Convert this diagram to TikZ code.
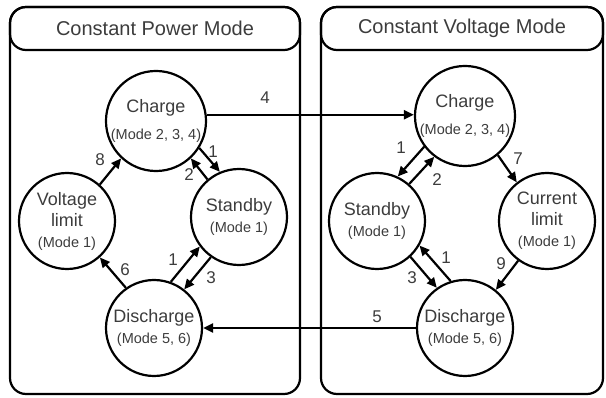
\documentclass[tikz,border=0pt]{standalone}
\usepackage{fontspec}
\setmainfont{Liberation Sans}
\usetikzlibrary{arrows.meta}
\definecolor{txt}{HTML}{3C3C3C}
\newcommand\modetxt[1]{{\fontsize{14.5}{17}\selectfont(Mode #1)}}

\begin{document}
\begin{tikzpicture}[x=1pt,y=-1pt,
  state/.style={circle, draw, line width=2.2pt, minimum size=96pt, inner sep=0pt,
    align=center, text=txt, font=\fontsize{18}{21}\selectfont},
  panel/.style={draw, line width=2.2pt, rounded corners=16pt},
  titlebox/.style={draw, line width=2.2pt, rounded corners=16pt, minimum height=43pt,
    inner sep=0pt, text=txt, font=\fontsize{20}{24}\selectfont},
  arr/.style={line width=2.2pt, -{Triangle[length=10pt,width=9pt]}},
  num/.style={text=txt, font=\fontsize{17}{20}\selectfont, inner sep=0pt},
]
\useasboundingbox (0,0) rectangle (606,398);

% panels and their titles
\draw[panel] (10,7) rectangle (300,394);
\draw[panel] (321,7) rectangle (603,394);
\node[titlebox, minimum width=290pt] (cpt) at (155,28.5) {Constant Power Mode};
\node[titlebox, minimum width=282pt] (cvt) at (462,28.5) {Constant Voltage Mode};

% constant power states
\node[state] (lch) at (156,121) {Charge\\[6pt]\modetxt{2, 3, 4}};
\node[state] (lvl) at (67,221) {Voltage\\limit\\\modetxt{1}};
\node[state] (lsb) at (239,217) {Standby\\\modetxt{1}};
\node[state] (ldc) at (154,328) {Discharge\\\modetxt{5, 6}};

% constant voltage states
\node[state] (rch) at (465,116) {Charge\\[6pt]\modetxt{2, 3, 4}};
\node[state] (rsb) at (377,221) {Standby\\\modetxt{1}};
\node[state] (rcl) at (547,221) {Current\\limit\\\modetxt{1}};
\node[state] (rdc) at (465,328) {Discharge\\\modetxt{5, 6}};

% transitions, constant power
\draw[arr] (lvl.48) -- (lch.227);
\draw[arr] (lch.-32) -- (lsb.113);
\draw[arr] (lsb.130) -- (lch.-47);
\draw[arr] (ldc.125) -- (lvl.-48);
\draw[arr] (ldc.70) -- (lsb.217);
\draw[arr] (lsb.235) -- (ldc.52);

% transitions, constant voltage
\draw[arr] (rch.217) -- (rsb.65);
\draw[arr] (rsb.49) -- (rch.233);
\draw[arr] (rch.-50) -- (rcl.128);
\draw[arr] (rsb.-47) -- (rdc.125);
\draw[arr] (rdc.107) -- (rsb.-30);
\draw[arr] (rcl.234) -- (rdc.51);

% transitions between the modes
\draw[arr] (lch.7) -- (rch.west |- lch.7);
\draw[arr] (rdc.west) -- (ldc.east);

% transition numbers
\node[num] (n4)  at (265,98)  {4};
\node[num] (n8)  at (100,160) {8};
\node[num] (n1a) at (213,152) {1};
\node[num] (n2a) at (189,175) {2};
\node[num] (n6)  at (125,270) {6};
\node[num] (n1b) at (173,260) {1};
\node[num] (n3a) at (211,278) {3};
\node[num] (n1c) at (401,148) {1};
\node[num] (n2b) at (437,180) {2};
\node[num] (n7)  at (518,159) {7};
\node[num] (n3b) at (412,278) {3};
\node[num] (n1d) at (446,258) {1};
\node[num] (n9)  at (501,264) {9};
\node[num] (n5)  at (377,317) {5};
\end{tikzpicture}
\end{document}
